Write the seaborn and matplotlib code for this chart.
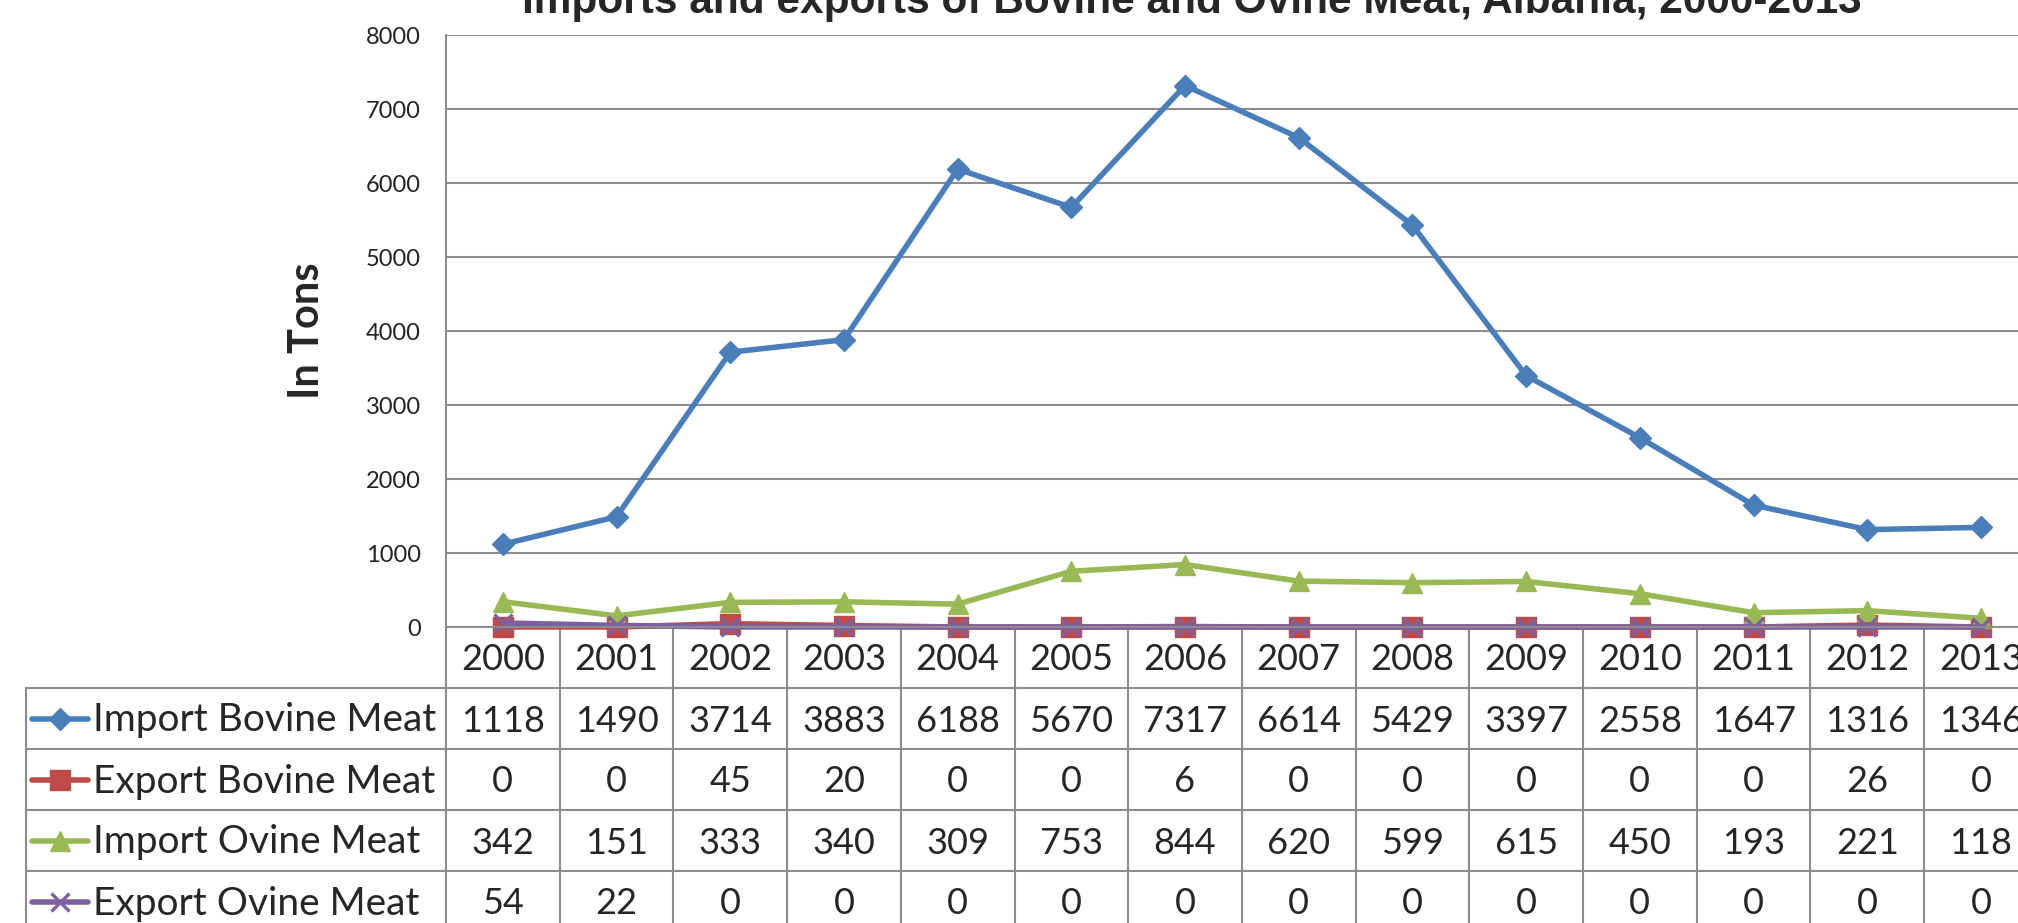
import numpy as np
import pandas as pd
import matplotlib
matplotlib.use("Agg")
import matplotlib.pyplot as plt
import seaborn as sns

years = [2000, 2001, 2002, 2003, 2004, 2005, 2006, 2007, 2008, 2009, 2010, 2011, 2012, 2013]
import_bovine = [1118, 1490, 3714, 3883, 6188, 5670, 7317, 6614, 5429, 3397, 2558, 1647, 1316, 1346]
export_bovine = [0, 0, 45, 20, 0, 0, 6, 0, 0, 0, 0, 0, 26, 0]
import_ovine = [342, 151, 333, 340, 309, 753, 844, 620, 599, 615, 450, 193, 221, 118]
export_ovine = [54, 22, 0, 0, 0, 0, 0, 0, 0, 0, 0, 0, 0, 0]

series_names = ["Import Bovine Meat", "Export Bovine Meat", "Import Ovine Meat", "Export Ovine Meat"]
series_values = [import_bovine, export_bovine, import_ovine, export_ovine]
colors = ["#4A7EBB", "#BE4B48", "#98B954", "#7D60A0"]
markers = ["D", "s", "^", "x"]
msizes = [11, 14, 14, 13]

title = "Imports and exports of Bovine and Ovine Meat, Albania, 2000-2013"

sns.set_theme(style="white")
plt.rcParams["font.family"] = ["Lato", "DejaVu Sans"]

W, H = 2018, 923
AX_L = 446          # left of plot area in px
COL_W = 113.7       # width of one category column
AX_TOP = 35         # y px of 8000
AX_BOT = 627        # y px of 0
TAB_L = 26          # left edge of table
ROW_H = 61
GRID = "#8C8C8C"
LW = 4.0

fig = plt.figure(figsize=(W / 100, H / 100), dpi=100)
ax = fig.add_axes([AX_L / W, (H - AX_BOT) / H, len(years) * COL_W / W, (AX_BOT - AX_TOP) / H])

df = pd.DataFrame({"pos": np.arange(len(years))})
for name, vals, c, m, ms in zip(series_names, series_values, colors, markers, msizes):
    df[name] = vals
    lw_m = 2.4 if m == "x" else 1
    sns.lineplot(data=df, x="pos", y=name, ax=ax, color=c, marker=m, markersize=ms,
                 linewidth=LW, markeredgecolor=c, markeredgewidth=lw_m, clip_on=False)

ax.set_xlim(-0.5, len(years) - 0.5)
ax.set_ylim(0, 8000)
ax.set_yticks(range(0, 8001, 1000))
ax.set_xticks([])
ax.set_xlabel("")
ax.set_ylabel("In Tons", fontsize=30, fontweight="bold", labelpad=29)
ax.tick_params(axis="y", length=0, pad=18, labelsize=17, labelcolor="#222222")
ax.grid(axis="y", color=GRID, linewidth=1.5)
for s in ["top", "right"]:
    ax.spines[s].set_visible(False)
for s in ["left", "bottom"]:
    ax.spines[s].set_color(GRID)
    ax.spines[s].set_linewidth(1.5)

# title, mostly cut off at the top as in the reference
fig.text(1192 / W, 1 - 13 / H, title, ha="center", va="baseline", fontsize=30.5,
         fontweight="bold", family=["Liberation Sans", "DejaVu Sans"])

# data table below the plot, drawn in pixel coordinates
tab = fig.add_axes([0, 0, 1, 1], zorder=-1)
tab.set_xlim(0, W)
tab.set_ylim(H, 0)
tab.axis("off")

n = len(years)
right = AX_L + n * COL_W
row_top = AX_BOT + ROW_H
bottom = row_top + ROW_H * len(series_names) + 5
for k in range(n + 1):
    x = AX_L + k * COL_W
    tab.plot([x, x], [AX_BOT, bottom], color=GRID, lw=1.5)
tab.plot([TAB_L, TAB_L], [row_top, bottom], color=GRID, lw=1.5)
for r in range(len(series_names) + 1):
    y = row_top + r * ROW_H
    tab.plot([TAB_L, right], [y, y], color=GRID, lw=1.5)

for k, yr in enumerate(years):
    tab.text(AX_L + (k + 0.5) * COL_W, AX_BOT + ROW_H / 2 + 13, str(yr),
             ha="center", va="baseline", fontsize=26)

for r, (name, vals, c, m, ms) in enumerate(zip(series_names, series_values, colors, markers, msizes)):
    yc = row_top + (r + 0.5) * ROW_H
    lw_m = 2.4 if m == "x" else 1
    tab.plot([32, 88], [yc, yc], color=c, lw=LW)
    tab.plot([60], [yc], marker=m, markersize=ms, color=c, markeredgecolor=c, markeredgewidth=lw_m)
    tab.text(93, yc + 13, name, ha="left", va="baseline", fontsize=28)
    for k, v in enumerate(vals):
        tab.text(AX_L + (k + 0.5) * COL_W, yc + 13, str(v), ha="center", va="baseline", fontsize=26)

fig.savefig("out.png", dpi=100)
